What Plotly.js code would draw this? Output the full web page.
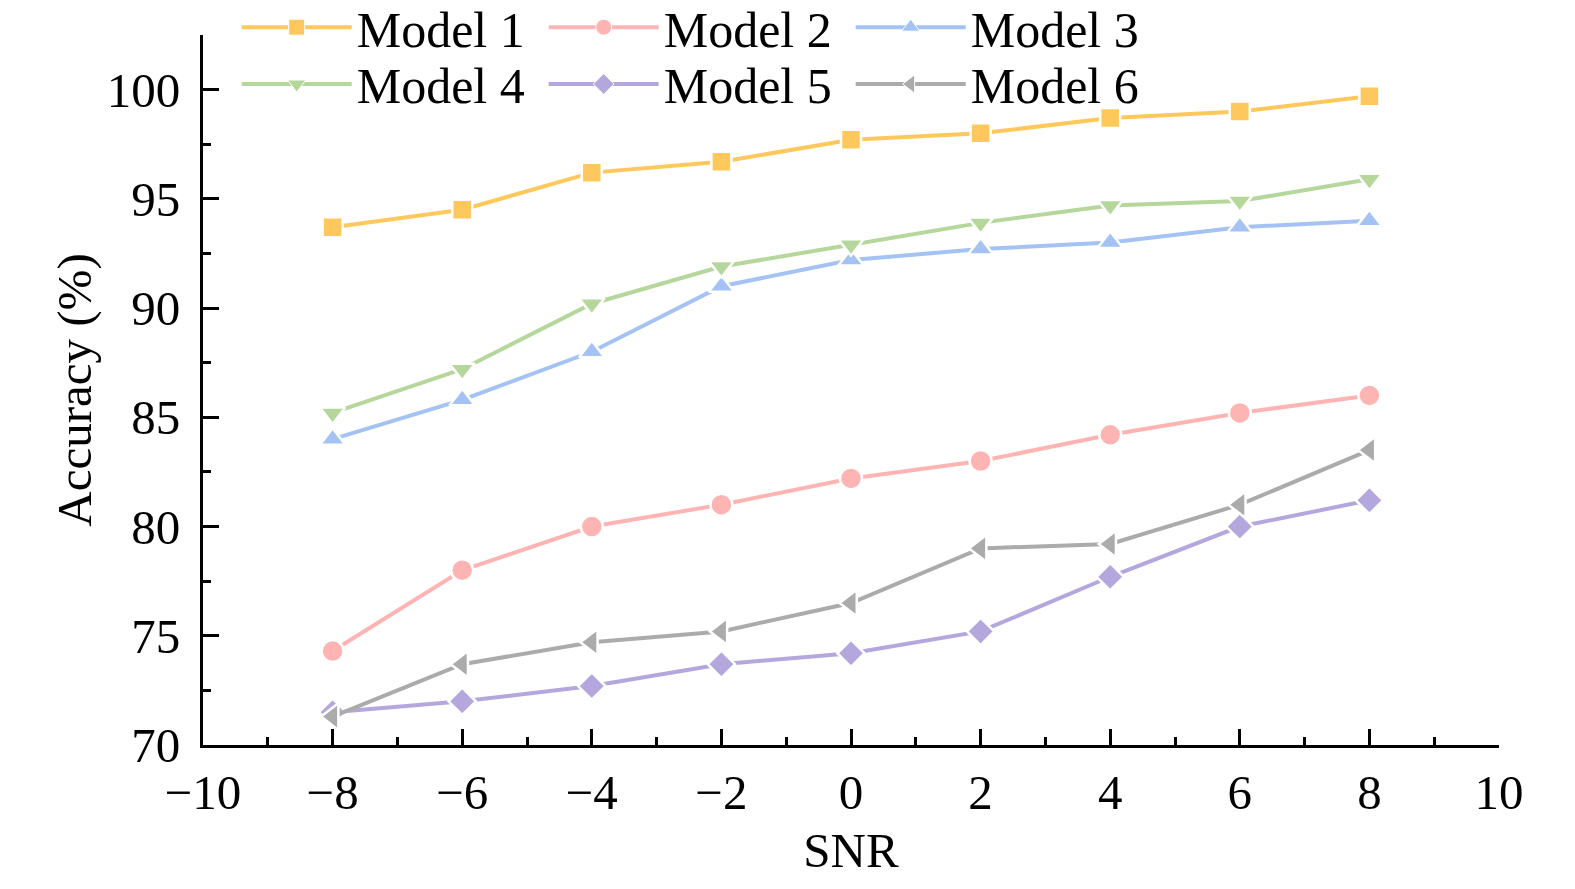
<!DOCTYPE html>
<html>
<head>
<meta charset="utf-8">
<script src="https://cdn.plot.ly/plotly-3.0.1.min.js"></script>
<style>
  html, body { margin: 0; padding: 0; background: #fff; overflow: hidden; }
  #myPlot { width: 1575px; height: 889px; }
</style>
</head>
<body>
<div id="myPlot"></div>
<script>
// SNR values on the x axis
var snr = [-8, -6, -4, -2, 0, 2, 4, 6, 8];

// accuracy (%) per model
var model1 = [93.7, 94.5, 96.2, 96.7, 97.7, 98.0, 98.7, 99.0, 99.7];
var model2 = [74.3, 78.0, 80.0, 81.0, 82.2, 83.0, 84.2, 85.2, 86.0];
var model3 = [84.0, 85.8, 88.0, 91.0, 92.2, 92.7, 93.0, 93.7, 94.0];
var model4 = [85.2, 87.2, 90.2, 91.9, 92.9, 93.9, 94.7, 94.9, 95.9];
var model5 = [71.5, 72.0, 72.7, 73.7, 74.2, 75.2, 77.7, 80.0, 81.2];
var model6 = [71.3, 73.7, 74.7, 75.2, 76.5, 79.0, 79.2, 81.0, 83.5];

var names   = ['Model 1', 'Model 2', 'Model 3', 'Model 4', 'Model 5', 'Model 6'];
var series  = [model1, model2, model3, model4, model5, model6];
var colors  = ['#FEC85C', '#FFB4B4', '#A4C2F4', '#B6D79C', '#B4A7DD', '#ABABAB'];
var symbols = ['square', 'circle', 'triangle-up', 'triangle-down', 'diamond', 'triangle-left'];
var sizes   = [20, 22, 22, 22, 21, 23];

var data = [];
for (var i = 0; i < series.length; ++i) {
    data.push({
        x: snr,
        y: series[i],
        name: names[i],
        type: 'scatter',
        mode: 'lines+markers',
        showlegend: false,
        line: { color: colors[i], width: 4 },
        // white ring mimics the gap between line and marker
        marker: { symbol: symbols[i], size: sizes[i], color: colors[i],
                  line: { color: '#fff', width: 2.5 } }
    });
}

// legend-only entries: thin outline so the (capped) legend markers stay big
for (var i = 0; i < series.length; ++i) {
    data.push({
        x: [null],
        y: [null],
        name: names[i],
        type: 'scatter',
        mode: 'lines+markers',
        // first row of the legend gets models 1-3, second row 4-6
        legend: i < 3 ? 'legend' : 'legend2',
        line: { color: colors[i], width: 4 },
        marker: { symbol: symbols[i], size: 16, color: colors[i],
                  line: { color: '#fff', width: 1 } }
    });
}

var fontFamily = 'Liberation Serif, Times New Roman, serif';
var axisFont   = { family: fontFamily, size: 49, color: '#000' };
var legendFont = { family: fontFamily, size: 50, color: '#000' };

function legendRow(y) {
    return {
        orientation: 'h',
        x: 0.026, y: y,
        xanchor: 'left', yanchor: 'middle',
        bgcolor: 'rgba(0,0,0,0)',
        font: legendFont,
        entrywidth: 182,
        entrywidthmode: 'pixels',
        itemwidth: 110
    };
}

var layout = {
    width: 1575,
    height: 889,
    margin: { l: 203, r: 76, t: 35, b: 144, autoexpand: false },
    paper_bgcolor: '#fff',
    plot_bgcolor: '#fff',
    font: axisFont,
    showlegend: true,
    legend: legendRow(1.011),
    legend2: legendRow(0.931),
    xaxis: {
        range: [-10, 10],
        dtick: 2,
        tick0: -10,
        ticks: 'inside',
        ticklen: 16,
        tickwidth: 3,
        tickcolor: '#000',
        minor: { dtick: 1, ticks: 'inside', ticklen: 8, tickwidth: 3, tickcolor: '#000' },
        showline: true,
        linecolor: '#000',
        linewidth: 3,
        showgrid: false,
        zeroline: false,
        tickfont: axisFont,
        ticklabelstandoff: 2,
        title: { text: 'SNR', font: axisFont, standoff: 14 }
    },
    yaxis: {
        range: [70, 102.5],
        dtick: 5,
        tick0: 70,
        ticks: 'inside',
        ticklen: 16,
        tickwidth: 3,
        tickcolor: '#000',
        minor: { dtick: 2.5, ticks: 'inside', ticklen: 8, tickwidth: 3, tickcolor: '#000' },
        showline: true,
        linecolor: '#000',
        linewidth: 3,
        showgrid: false,
        zeroline: false,
        tickfont: axisFont,
        ticklabelstandoff: 10,
        title: { text: 'Accuracy (%)', font: axisFont, standoff: 0 }
    }
};

var config = { staticPlot: true, displayModeBar: false };

Plotly.newPlot('myPlot', data, layout, config);
</script>
</body>
</html>
